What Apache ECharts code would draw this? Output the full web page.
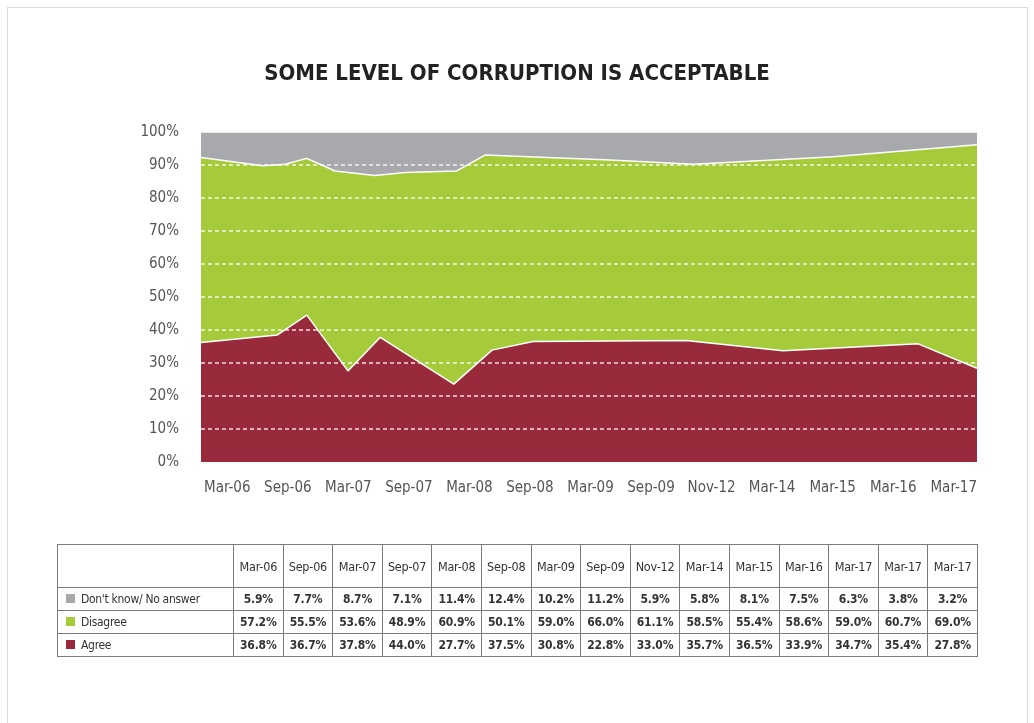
<!DOCTYPE html>
<html>
<head>
<meta charset="utf-8">
<script src="https://cdn.jsdelivr.net/npm/echarts@6/dist/echarts.min.js"></script>
<style>
  html, body { margin: 0; padding: 0; background: #fff; }
  #frame { position: absolute; left: 7px; top: 7px; width: 1019px; height: 740px; border: 1px solid #dcdcdc; }
  #chart { position: absolute; left: 0; top: 0; width: 1034px; height: 723px; }
  #tbl { position: absolute; left: 57px; top: 544px; border-collapse: collapse; table-layout: fixed;
         font-family: 'DejaVu Sans Condensed', 'Liberation Sans Narrow', sans-serif; color: #333; }
  #tbl td { border: 1px solid #7a7a7a; text-align: center; padding: 0; font-size: 12px; white-space: nowrap;
            letter-spacing: -0.2px; }
  #tbl tr.head td { height: 42px; font-size: 12.5px; }
  #tbl tr.row td { height: 22px; font-weight: bold; }
  #tbl tr.row td.lab { text-align: left; font-weight: normal; padding-left: 8px; letter-spacing: -0.3px; }
  .mk { display: inline-block; width: 9px; height: 9px; margin-right: 6px; vertical-align: 0px; }
</style>
</head>
<body>
<div id="frame"></div>
<div id="chart"></div>
<table id="tbl"></table>
<script>
// axis labels under the chart
const axisLabels = ['Mar-06', 'Sep-06', 'Mar-07', 'Sep-07', 'Mar-08', 'Sep-08', 'Mar-09',
  'Sep-09', 'Nov-12', 'Mar-14', 'Mar-15', 'Mar-16', 'Mar-17'];

// chart boundaries (x = months since Mar-06)
const agreeMonths = [0, 13, 18, 25, 30.5, 43, 49.5, 56.5, 82.5, 99, 122, 132];
const agreeLevel = [36.2, 38.5, 44.5, 27.6, 37.8, 23.6, 33.9, 36.5, 36.8, 33.7, 35.8, 28.4];
const disagreeTopMonths = [0, 10.5, 14.3, 18, 22.8, 29.6, 34.7, 43.5, 48.3, 69.6, 83.7, 107.5, 132];
const disagreeTopLevel = [92.3, 89.8, 90.2, 92.0, 88.2, 86.8, 87.7, 88.2, 93.0, 91.5, 90.2, 92.5, 96.1];
const dontKnowMonths = [0, 132];
const dontKnowLevel = [100, 100];

// table
const tableCols = ['Mar-06', 'Sep-06', 'Mar-07', 'Sep-07', 'Mar-08', 'Sep-08', 'Mar-09', 'Sep-09',
  'Nov-12', 'Mar-14', 'Mar-15', 'Mar-16', 'Mar-17', 'Mar-17', 'Mar-17'];
const dontKnow = [5.9, 7.7, 8.7, 7.1, 11.4, 12.4, 10.2, 11.2, 5.9, 5.8, 8.1, 7.5, 6.3, 3.8, 3.2];
const disagree = [57.2, 55.5, 53.6, 48.9, 60.9, 50.1, 59.0, 66.0, 61.1, 58.5, 55.4, 58.6, 59.0, 60.7, 69.0];
const agree = [36.8, 36.7, 37.8, 44.0, 27.7, 37.5, 30.8, 22.8, 33.0, 35.7, 36.5, 33.9, 34.7, 35.4, 27.8];

const GRAY = '#a8a9ad', GREEN = '#a6cb3a', RED = '#982a3c';
const FONT = "'DejaVu Sans Condensed', 'Liberation Sans Narrow', sans-serif";

function pairs(xs, ys) { return xs.map((x, i) => [x, ys[i]]); }

function areaSeries(name, xs, ys, color, z) {
  return {
    name: name,
    type: 'line',
    xAxisIndex: 0,
    yAxisIndex: 0,
    data: pairs(xs, ys),
    symbol: 'none',
    z: z,
    lineStyle: { color: '#fff', width: 1.5 },
    areaStyle: { color: color, opacity: 1 },
  };
}

const chart = echarts.init(document.getElementById('chart'));
chart.setOption({
  animation: false,
  title: {
    text: 'SOME LEVEL OF CORRUPTION IS ACCEPTABLE',
    left: 'center',
    top: 58,
    textStyle: { fontFamily: FONT, fontWeight: 'bold', fontSize: 22, color: '#222' },
  },
  grid: [
    { left: 201, right: 57, top: 132, bottom: 261 },
    { left: 197, right: 50, top: 132, bottom: 261 },
  ],
  xAxis: [
    { type: 'value', gridIndex: 0, min: 0, max: 132, show: false },
    {
      type: 'category', gridIndex: 1, data: axisLabels, boundaryGap: true,
      axisLine: { show: false }, axisTick: { show: false }, splitLine: { show: false },
      axisLabel: { interval: 0, fontFamily: FONT, fontSize: 15, color: '#555', margin: 19 },
    },
  ],
  yAxis: [
    {
      type: 'value', gridIndex: 0, min: 0, max: 100, interval: 10, z: 5,
      axisLine: { show: false }, axisTick: { show: false },
      axisLabel: { formatter: '{value}%', fontFamily: FONT, fontSize: 15, color: '#555', margin: 22 },
      splitLine: {
        show: true, showMinLine: false, showMaxLine: false,
        lineStyle: { color: 'rgba(255,255,255,0.85)', type: [4, 3], width: 1.5 },
      },
    },
    { type: 'value', gridIndex: 1, min: 0, max: 100, show: false },
  ],
  series: [
    areaSeries("Don't know/ No answer", dontKnowMonths, dontKnowLevel, GRAY, 1),
    areaSeries('Disagree', disagreeTopMonths, disagreeTopLevel, GREEN, 2),
    areaSeries('Agree', agreeMonths, agreeLevel, RED, 3),
  ],
});

// data table
const tbl = document.getElementById('tbl');
let html = '<colgroup><col style="width:176px">' +
  tableCols.map(() => '<col style="width:49.6px">').join('') + '</colgroup>';
html += '<tr class="head"><td></td>' + tableCols.map(c => '<td>' + c + '</td>').join('') + '</tr>';
const rows = [
  ["Don't know/ No answer", GRAY, dontKnow],
  ['Disagree', GREEN, disagree],
  ['Agree', RED, agree],
];
rows.forEach(r => {
  html += '<tr class="row"><td class="lab"><span class="mk" style="background:' + r[1] + '"></span>' +
    r[0] + '</td>' + r[2].map(v => '<td>' + v.toFixed(1) + '%</td>').join('') + '</tr>';
});
tbl.innerHTML = html;
</script>
</body>
</html>
